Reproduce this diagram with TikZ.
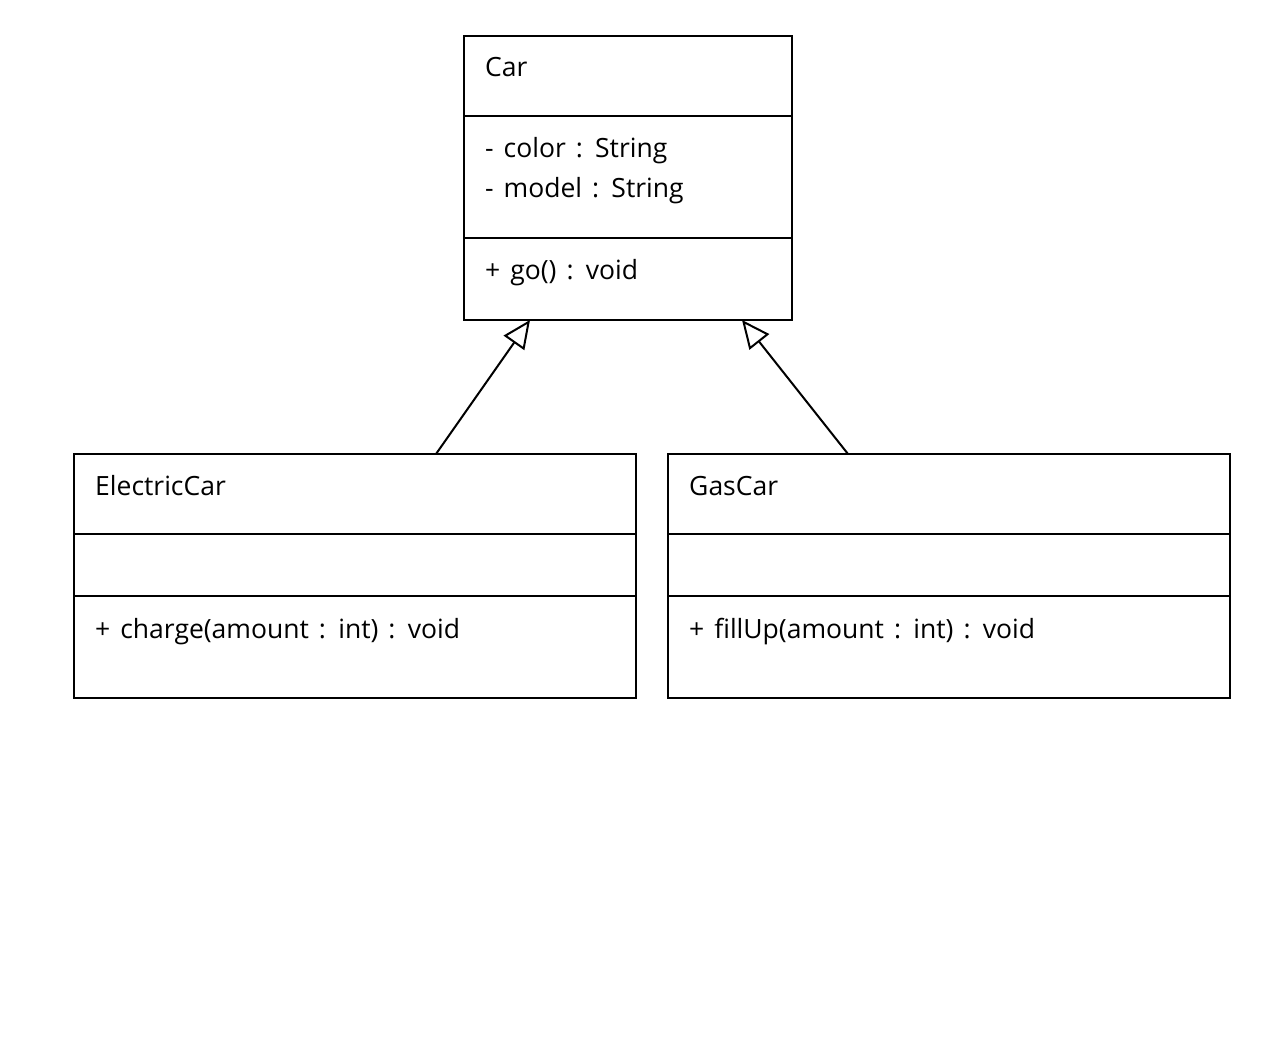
\documentclass[tikz,border=0pt]{standalone}
\usepackage{fontspec}
\setmainfont{Open Sans}[WordSpace=1.45]
\usetikzlibrary{arrows.meta}
\begin{document}
\begin{tikzpicture}[x=1pt,y=-1pt,
  umlbox/.style={draw=black,line width=2pt,fill=white,inner sep=0pt},
  divider/.style={draw=black,line width=2pt},
  txt/.style={anchor=base west,inner sep=0pt,font=\fontsize{26.5}{30}\selectfont},
  inherit/.style={draw=black,line width=2pt,-{Triangle[open,length=28pt,width=25pt,line width=2pt]}}]
\useasboundingbox (0,0) rectangle (1276,1056);
% Car
\node[umlbox,minimum width=328pt,minimum height=284pt] (car) at (628,178) {};
\draw[divider] (464,116) -- (792,116);
\draw[divider] (464,238) -- (792,238);
\node[txt] (carname) at (485,77) {Car};
\node[txt] (carattr1) at (485,158) {- color : String};
\node[txt] (carattr2) at (485,198) {- model : String};
\node[txt] (carop1) at (485,280) {+ go() : void};
% ElectricCar
\node[umlbox,minimum width=562pt,minimum height=244pt] (ec) at (355,576) {};
\draw[divider] (74,534) -- (636,534);
\draw[divider] (74,596) -- (636,596);
\node[txt] (ecname) at (95,495) {ElectricCar};
\node[txt] (ecop1) at (95,638) {+ charge(amount : int) : void};
% GasCar
\node[umlbox,minimum width=562pt,minimum height=244pt] (gc) at (949,576) {};
\draw[divider] (668,534) -- (1230,534);
\draw[divider] (668,596) -- (1230,596);
\node[txt] (gcname) at (689,495) {GasCar};
\node[txt] (gcop1) at (689,638) {+ fillUp(amount : int) : void};
% connectors
\coordinate (ecTop) at (436,454);
\coordinate (carL) at (530,320);
\coordinate (gcTop) at (848,454);
\coordinate (carR) at (742,320);
\draw[inherit] (ecTop) -- (carL);
\draw[inherit] (gcTop) -- (carR);
\end{tikzpicture}
\end{document}
